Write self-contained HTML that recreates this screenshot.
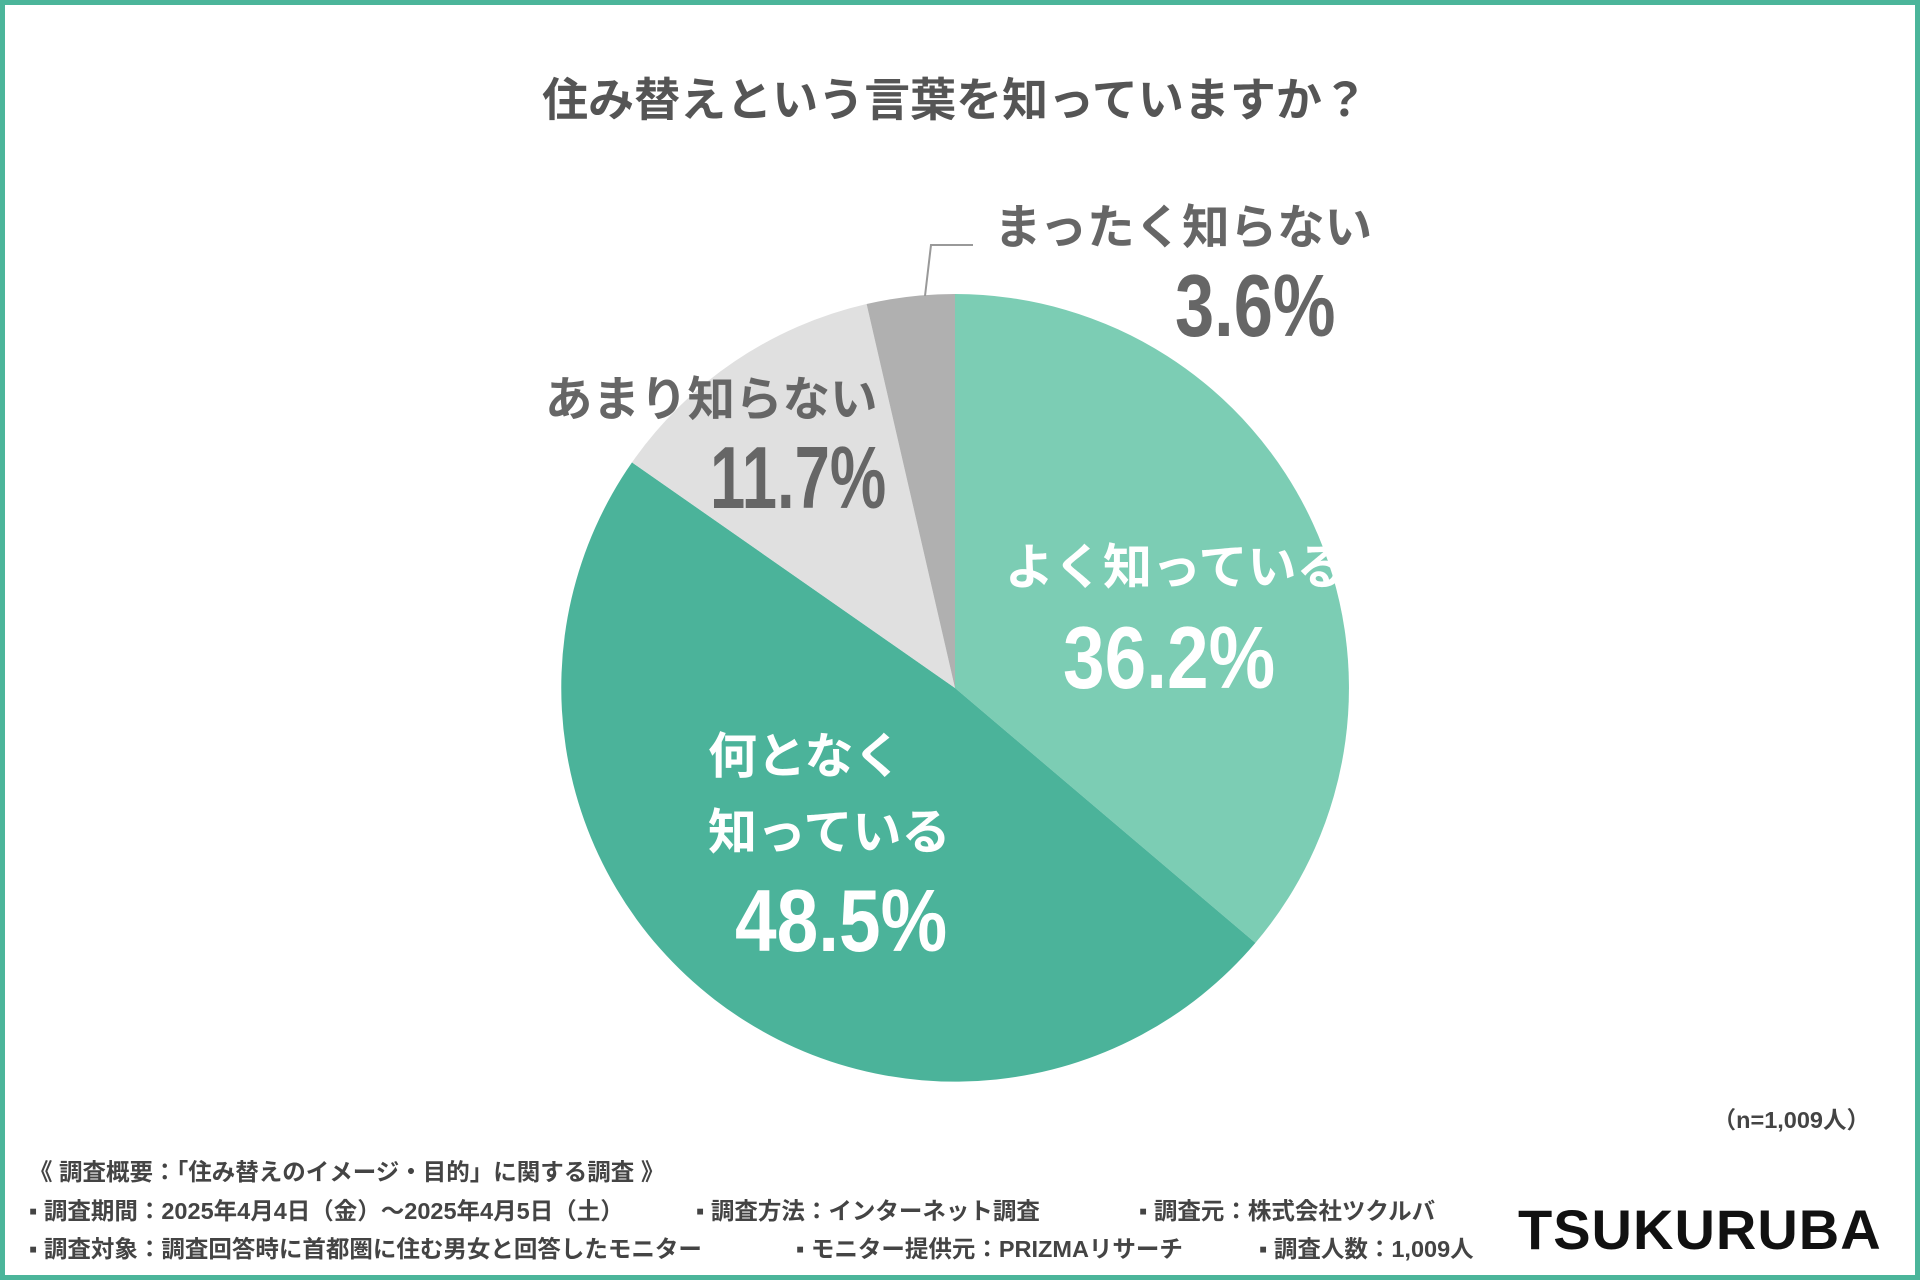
<!DOCTYPE html>
<html><head><meta charset="utf-8"><style>
body{margin:0;width:1920px;height:1280px;overflow:hidden;background:#fff;font-family:"Liberation Sans","Noto Sans CJK JP",sans-serif;}
.frame{position:absolute;left:0;top:0;width:1910px;height:1270px;border:5px solid #4bb59a;}
.t{position:absolute;white-space:nowrap;font-weight:bold;line-height:1;}
.num{font-family:"Liberation Sans",sans-serif;font-weight:bold;transform-origin:0 0;}
.f{position:absolute;font-size:23.5px;font-weight:bold;color:#444;white-space:nowrap;line-height:1;}
</style></head><body>
<div class="frame"></div>
<div class="t" style="left:0;width:1910px;text-align:center;top:77px;font-size:46px;color:#555;">住み替えという言葉を知っていますか？</div>
<svg style="position:absolute;left:0;top:0" width="1920" height="1280">
<path d="M955,688 L955,294 A394,394 0 0 1 1255.4,942.9 Z" fill="#7ccdb4"/>
<path d="M955,688 L1255.4,942.9 A394,394 0 0 1 632,462.4 Z" fill="#4bb39a"/>
<path d="M955,688 L632,462.4 A394,394 0 0 1 866.6,304 Z" fill="#e0e0e0"/>
<path d="M955,688 L866.6,304 A394,394 0 0 1 955,294 Z" fill="#b0b0b0"/>
<polyline points="925,296 931,245 973,245" fill="none" stroke="#999" stroke-width="2"/>
</svg>
<div class="t" style="left:994px;top:205px;font-size:47.5px;color:#666;">まったく知らない</div>
<div class="t num" style="left:1175px;top:262px;font-size:88px;color:#666;transform:scaleX(0.8);">3.6%</div>
<div class="t" style="left:545px;top:377px;font-size:47.5px;color:#666;">あまり知らない</div>
<div class="t num" style="left:710px;top:434px;font-size:88px;color:#666;transform:scaleX(0.72);">11.7%</div>
<div class="t" style="left:1005px;top:544px;font-size:49px;color:#fff;">よく知っている</div>
<div class="t num" style="left:1063px;top:614px;font-size:88px;color:#fff;transform:scaleX(0.85);">36.2%</div>
<div class="t" style="left:708px;top:733px;font-size:49px;color:#fff;">何となく</div>
<div class="t" style="left:708px;top:809px;font-size:49px;color:#fff;">知っている</div>
<div class="t num" style="left:735px;top:877px;font-size:88px;color:#fff;transform:scaleX(0.85);">48.5%</div>
<div class="f" style="right:50px;top:1109px;">（n=1,009人）</div>
<div class="f" style="left:29px;top:1161px;">《 調査概要：「住み替えのイメージ・目的」に関する調査 》</div>
<div class="f" style="left:29px;top:1200px;">▪ 調査期間：2025年4月4日（金）～2025年4月5日（土）</div>
<div class="f" style="left:696px;top:1200px;">▪ 調査方法：インターネット調査</div>
<div class="f" style="left:1139px;top:1200px;">▪ 調査元：株式会社ツクルバ</div>
<div class="f" style="left:29px;top:1238px;">▪ 調査対象：調査回答時に首都圏に住む男女と回答したモニター</div>
<div class="f" style="left:796px;top:1238px;">▪ モニター提供元：PRIZMAリサーチ</div>
<div class="f" style="left:1259px;top:1238px;">▪ 調査人数：1,009人</div>
<div class="t" style="left:1518px;top:1202px;font-size:56px;font-weight:900;color:#111;letter-spacing:1px;">TSUKURUBA</div>
</body></html>
